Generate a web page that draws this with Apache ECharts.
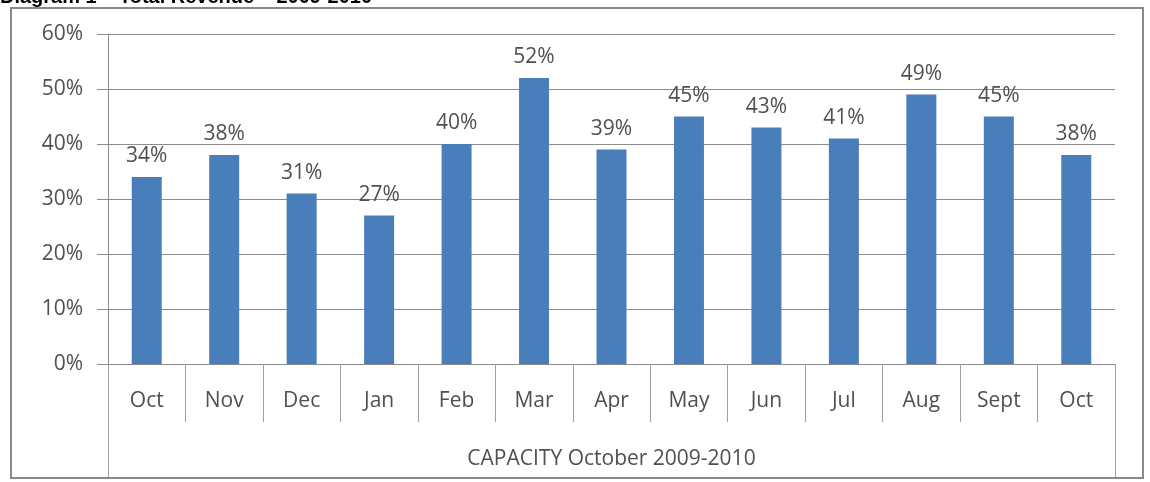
<!DOCTYPE html>
<html>
<head>
<meta charset="utf-8">
<script src="https://cdn.jsdelivr.net/npm/echarts@6/dist/echarts.min.js"></script>
<style>
html,body{margin:0;padding:0;background:#fff;}
#chart{width:1150px;height:482px;}
</style>
</head>
<body>
<div id="chart"></div>
<script>
const titleText = 'Diagram 1 \u2013 Total Revenue \u2013 2009-2010';
const months = ['Oct','Nov','Dec','Jan','Feb','Mar','Apr','May','Jun','Jul','Aug','Sept','Oct'];
const groupLabel = ['CAPACITY October 2009-2010'];
const capacity = [34,38,31,27,40,52,39,45,43,41,49,45,38];
const yTicks = [0,10,20,30,40,50,60];

const FONT = '"Open Sans", sans-serif';
const TXT = '#505050';
const FS = 21;
const chart = echarts.init(document.getElementById('chart'));
chart.setOption({
  animation:false,
  backgroundColor:'#fff',
  title:{text:titleText,left:0,top:-13,padding:0,textStyle:{fontFamily:'"Liberation Sans", Arial, sans-serif',fontWeight:'bold',fontSize:20,color:'#000'}},
  graphic:[{type:'rect',shape:{x:11,y:8,width:1132,height:470},style:{fill:'none',stroke:'#8a8a8a',lineWidth:2},z:-1}],
  grid:{left:108,right:35,top:34,bottom:118},
  xAxis:[{
    type:'category',data:months,position:'bottom',
    axisLine:{show:true,lineStyle:{color:'#8c8c8c',width:1}},
    axisTick:{show:true,length:58,interval:0,lineStyle:{color:'#a0a0a0'}},
    axisLabel:{interval:0,margin:27,fontFamily:FONT,fontSize:FS,color:TXT}
  },{
    type:'category',data:groupLabel,position:'bottom',
    axisLine:{show:false},
    axisTick:{show:true,length:113,lineStyle:{color:'#a0a0a0'}},
    axisLabel:{margin:85,fontFamily:FONT,fontSize:FS,color:TXT}
  }],
  yAxis:{
    type:'value',min:yTicks[0],max:yTicks[yTicks.length-1],interval:10,
    axisLine:{show:true,lineStyle:{color:'#8c8c8c'}},
    axisTick:{show:true,length:11,lineStyle:{color:'#8c8c8c'}},
    splitLine:{lineStyle:{color:'#8c8c8c',width:1}},
    axisLabel:{margin:25,formatter:'{value}%',fontFamily:FONT,fontSize:FS,color:TXT}
  },
  series:[{
    type:'bar',data:capacity,xAxisIndex:0,barWidth:30,
    itemStyle:{color:'#4a7ebb'},
    label:{show:true,position:'top',distance:10,formatter:'{c}%',fontFamily:FONT,fontSize:FS,color:TXT}
  }]
});
</script>
</body>
</html>
